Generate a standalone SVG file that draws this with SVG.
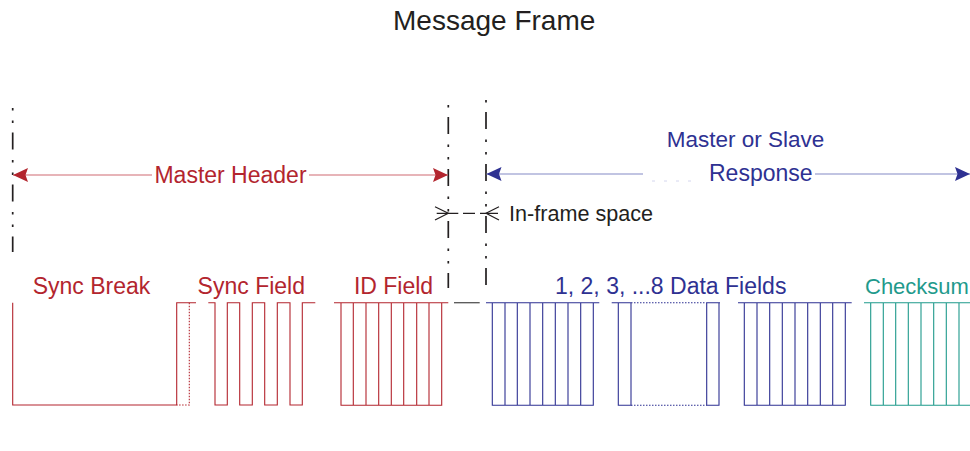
<svg xmlns="http://www.w3.org/2000/svg" width="970" height="451" viewBox="0 0 970 451">
<style>
text{font-family:"Liberation Sans",Arial,sans-serif;font-size:23px}
.red{fill:#b3252e}.blue{fill:#2e3192}.teal{fill:#1f9a8c}.dark{fill:#231f20}
.wr{fill:none;stroke:#b3252e;stroke-width:1.1}
.wb{fill:none;stroke:#2e3192;stroke-width:1.1}
.wt{fill:none;stroke:#1f9a8c;stroke-width:1.1}
.dd{fill:none;stroke:#231f20;stroke-width:1.7;stroke-dasharray:17 10.5 2.5 10 2.5 9.5}
.dot{stroke-dasharray:1.5 1.5}
</style>
<defs>
<marker id="ahr" viewBox="0 0 15 14" refX="15" refY="7" markerWidth="15" markerHeight="14" markerUnits="userSpaceOnUse" orient="auto"><path d="M0,0 L15,7 L0,14 L2.5,7 Z" fill="#b3252e"/></marker>
<marker id="ahb" viewBox="0 0 15 14" refX="15" refY="7" markerWidth="15" markerHeight="14" markerUnits="userSpaceOnUse" orient="auto"><path d="M0,0 L15,7 L0,14 L2.5,7 Z" fill="#2e3192"/></marker>
</defs>
<g id="title"><text x="393" y="30" class="dark" style="font-size:28px">Message Frame</text></g>
<g id="boundaries">
<path class="dd" d="M12.7,108 V252" stroke-dashoffset="27.5"/>
<path class="dd" d="M448.3,104 V288" stroke-dashoffset="39"/>
<path class="dd" d="M486,100 V286" stroke-dashoffset="40"/>
</g>
<g id="connectors">
<path d="M152,175 H13" fill="none" stroke="#d06a72" stroke-width="1.2" marker-end="url(#ahr)"/>
<path d="M309,175 H448" fill="none" stroke="#d06a72" stroke-width="1.2" marker-end="url(#ahr)"/>
<path d="M643,174 H486.5" fill="none" stroke="#8489c6" stroke-width="1.2" marker-end="url(#ahb)"/>
<path d="M815,174 H970" fill="none" stroke="#8489c6" stroke-width="1.2" marker-end="url(#ahb)"/>
<path d="M652,181 H700" fill="none" stroke="#d4d6ee" stroke-width="1" stroke-dasharray="3 9"/>
<g fill="none" stroke="#231f20" stroke-width="1.2">
<path d="M435,206.7 L448.3,213.3 L435,220"/>
<path d="M499,206.7 L486,213.3 L499,220"/>
<path d="M436.7,213.3 H458.3 M463,213.3 H475 M480,213.3 H498"/>
</g>
</g>
<g id="master-header"><text x="230.5" y="182.5" text-anchor="middle" class="red">Master Header</text></g>
<g id="response"><text x="745.5" y="147" text-anchor="middle" class="blue" style="font-size:22.5px">Master or Slave</text><text x="709" y="181" class="blue">Response</text></g>
<g id="inframe"><text x="509" y="221" class="dark" style="font-size:21.6px">In-frame space</text></g>
<g id="sync-break">
<text x="91.5" y="294.3" text-anchor="middle" class="red">Sync Break</text>
<path class="wr" d="M12.7,302.7 V405 H176.7 V302.7 H196"/>
<path class="wr dot" d="M189.3,302.7 V405 H176.7"/>
</g>
<g id="sync-field">
<text x="251.3" y="293.5" text-anchor="middle" class="red">Sync Field</text>
<path class="wr" d="M208.3,302.7 H215 V405 H227.3 V302.7 H239.7 V405 H252.3 V302.7 H264.7 V405 H277.3 V302.7 H290 V405 H302.3 V302.7 H315.3"/>
</g>
<g id="id-field">
<text x="393.5" y="293.5" text-anchor="middle" class="red">ID Field</text>
<path class="wr" d="M334,302.7 H448.3 M341,302.7 V405.3 H441.7 V302.7 M353.3,302.7 V405.3 M366,302.7 V405.3 M378.7,302.7 V405.3 M391.3,302.7 V405.3 M403.7,302.7 V405.3 M416.7,302.7 V405.3 M429,302.7 V405.3"/>
<path d="M454,302.7 H479.7" stroke="#555" stroke-width="1.3"/>
</g>
<g id="data-fields">
<text x="670.7" y="293.5" text-anchor="middle" class="blue">1, 2, 3, ...8 Data Fields</text>
<path class="wb" d="M486,302.7 H599.3 M492.3,302.7 V405.3 H593.3 V302.7 M505,302.7 V405.3 M517.3,302.7 V405.3 M530,302.7 V405.3 M542.7,302.7 V405.3 M555.3,302.7 V405.3 M568,302.7 V405.3 M580.7,302.7 V405.3"/>
<path class="wb" d="M611.7,302.7 H631 M706.7,302.7 H720 M618.3,302.7 V405.3 H631 V302.7 M706.7,302.7 V405.3 H719 V302.7"/>
<path class="wb dot" d="M631,302.7 H706.7 M631,405.3 H706.7"/>
<path class="wb" d="M738,302.7 H851.7 M744.3,302.7 V405.3 H845.3 V302.7 M757,302.7 V405.3 M769.7,302.7 V405.3 M782.3,302.7 V405.3 M795,302.7 V405.3 M807.7,302.7 V405.3 M820.3,302.7 V405.3 M832.7,302.7 V405.3"/>
</g>
<g id="checksum">
<text x="865" y="293.5" class="teal" style="font-size:22px">Checksum</text>
<path class="wt" d="M864,302.7 H970 M870.7,302.7 V405.3 H970 M883.3,302.7 V405.3 M895.7,302.7 V405.3 M908.3,302.7 V405.3 M921,302.7 V405.3 M933.7,302.7 V405.3 M946.3,302.7 V405.3 M959,302.7 V405.3"/>
</g>
</svg>
